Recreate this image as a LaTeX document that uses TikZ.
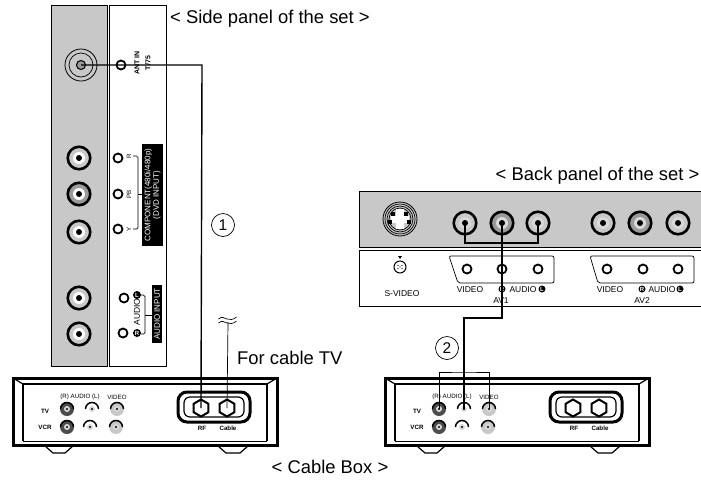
\documentclass[tikz,border=0pt]{standalone}
\usepackage{fontspec}
\setmainfont{Liberation Sans}
\usetikzlibrary{shapes.geometric}
\definecolor{panelgray}{HTML}{C8C8C8}
\definecolor{ringgray}{HTML}{9A9A9A}
\tikzset{
    caption/.style = {font = \fontsize{18.4}{20}\selectfont, inner sep = 0pt},
    tinylabel/.style = {font = \fontsize{6.2}{7}\selectfont, inner sep = 0pt},
    backlabel/.style = {font = \fontsize{8.5}{9}\selectfont, inner sep = 0pt},
    boldlabel/.style = {font = \fontsize{6.2}{7}\selectfont\bfseries, inner sep = 0pt},
    sidelabel/.style = {font = \fontsize{8.5}{9}\selectfont, inner sep = 0pt, rotate = 90},
    blacklabel/.style = {sidelabel, font = \fontsize{8}{8.5}\selectfont, fill = black, text = white, align = center},
    badge/.style = {circle, fill = black, text = white, inner sep = 0pt, minimum size = 8pt, font = \fontsize{6}{6}\selectfont\bfseries},
    hole/.style = {circle, draw, line width = 1.8pt, fill = white, inner sep = 0pt, minimum size = 9pt},
    rcajack/.style = {circle, draw, line width = 2.6pt, fill = #1, inner sep = 0pt, minimum size = 22.5pt},
    smalljack/.style = {circle, fill = #1, inner sep = 0pt, minimum size = 14pt},
    nut/.style = {regular polygon, regular polygon sides = 6, rotate = 30, draw, line width = 2pt, fill = white, inner sep = 0pt, minimum size = 17pt},
    numbered/.style = {circle, draw, line width = .7pt, inner sep = 0pt, minimum size = 23pt, font = \fontsize{15.5}{16}\selectfont},
    cable/.style = {line width = 1.4pt},
    thinline/.style = {line width = .7pt},
    panel/.style = {draw, line width = .9pt},
}
\begin{document}
\begin{tikzpicture}[x = 1pt, y = -1pt]
    \useasboundingbox (0, 0) rectangle (701, 480);

    % side panel
    \draw[panel, fill = panelgray] (51, 5) rectangle (107, 366);
    \draw[panel] (109, 5) rectangle (166, 366);

    \node[circle, draw, thick, fill = panelgray, minimum size = 32pt, inner sep = 0pt] (antout) at (81, 65) {};
    \draw[thinline] (antout.center) circle (12);
    \fill[ringgray] (antout.center) circle (5);
    \draw[line width = 1pt] (antout.center) circle (4.5);
    \node[hole] (antin) at (121, 65) {};
    \node[sidelabel, font = \fontsize{7}{7}\selectfont\bfseries] (antlabel) at (137, 63) {ANT IN};
    \node[sidelabel, font = \fontsize{7}{7}\selectfont\bfseries] (ohmlabel) at (148, 63) {T/75};

    \foreach \name/\ypos/\col in {sideR/158/panelgray, sidePb/194/ringgray, sideY/232/panelgray, sideAL/298/panelgray, sideAR/334/panelgray} {
        \node[rcajack = \col] (\name) at (79, \ypos) {};
        \fill[white] (\name.center) circle (6);
        \fill (\name.center) circle (3);
    }

    \foreach \name/\xpos/\ypos in {holeR/118/158, holePb/118/194, holeY/118/229, holeAL/124/298, holeAR/123/333} {
        \node[hole] (\name) at (\xpos, \ypos) {};
    }

    \node[tinylabel, rotate = 90] (labelR) at (129, 156) {R};
    \node[tinylabel, rotate = 90] (labelPb) at (129, 194) {PB};
    \node[tinylabel, rotate = 90] (labelY) at (129, 229) {Y};
    \draw[thinline, rounded corners = 1.5pt] (133, 156) -- (138, 156) -- (138, 229) -- (133, 229);
    \draw[thinline] (138, 194) -- (142, 194);
    \node[blacklabel, minimum width = 102pt, minimum height = 21pt] (complabel) at (152.5, 195) {COMPONENT(480i/480p)\\(DVD INPUT)};

    \node[sidelabel] (audiolabel) at (137, 312) {AUDIO};
    \node[badge] (badgeL) at (137, 295) {L};
    \node[badge] (badgeR) at (137, 333) {R};
    \draw[thinline, rounded corners = 1.5pt] (141, 295) -- (145, 295) -- (145, 334) -- (141, 334);
    \draw[thinline] (145, 315) -- (152, 315);
    \node[blacklabel, minimum width = 58pt, minimum height = 10pt] (audioinput) at (157, 314) {AUDIO INPUT};

    % back panel
    \draw[panel, fill = panelgray] (701, 191) -- (359, 191) -- (359, 247) -- (701, 247);
    \draw[panel] (701, 250) -- (359, 250) -- (359, 306) -- (701, 306);

    \node[circle, draw, thick, fill = panelgray, minimum size = 34pt, inner sep = 0pt] (svideo) at (400, 219) {};
    \foreach \r in {15, 13, 11} {
        \draw[thinline] (svideo.center) circle (\r);
    }
    \fill[white] (396, 209) rectangle (404, 229);
    \fill[white] (391, 216) rectangle (409, 223);
    \foreach \dx/\dy in {-7/-5, 6/-5, -10/3, 9/3} {
        \fill ([shift = {(\dx, \dy)}] svideo.center) ++(-2, -2) rectangle ++(4, 4);
    }

    \foreach \name/\xpos/\col in {avV/465/panelgray, avR/502/ringgray, avL/538/panelgray, avbV/603/panelgray, avbR/640/ringgray, avbL/678/panelgray} {
        \node[rcajack = \col] (\name) at (\xpos, 223) {};
        \fill[white!85!black] (\name.center) circle (6);
        \fill (\name.center) circle (3);
    }

    \draw[thinline, rounded corners = 2pt] (449, 256) -- (554, 256) -- (554, 283) -- (458, 283) -- cycle;
    \draw[thinline, rounded corners = 2pt] (590, 256) -- (694, 256) -- (694, 283) -- (598, 283) -- cycle;
    \foreach \name/\xpos in {holeV/467, holeM/502, holeE/538, holebV/607, holebM/643, holebE/678} {
        \node[hole] (\name) at (\xpos, 269) {};
    }

    \node[circle, draw, line width = 1pt, inner sep = 0pt, minimum size = 12pt] (svicon) at (400, 267) {};
    \foreach \dx/\dy in {-2/-1.5, 2/-1.5, -2/1.5, 2/1.5, 0/0} {
        \fill ([shift = {(\dx, \dy)}] svicon.center) circle (.7);
    }
    \fill (398, 256) -- (402, 256) -- (400, 259) -- cycle;
    \node[backlabel] (svlabel) at (402, 294) {S-VIDEO};

    \node[backlabel] (videoone) at (470, 290) {VIDEO};
    \node[badge, minimum size = 7pt] (rone) at (502, 289) {R};
    \node[backlabel] (audioone) at (523, 290) {AUDIO};
    \node[badge, minimum size = 7pt] (lone) at (542, 289) {L};
    \node[backlabel] (avone) at (501, 301) {AV1};
    \node[backlabel] (videotwo) at (610, 290) {VIDEO};
    \node[badge, minimum size = 7pt] (rtwo) at (642, 289) {R};
    \node[backlabel] (audiotwo) at (662, 290) {AUDIO};
    \node[badge, minimum size = 7pt] (ltwo) at (680, 289) {L};
    \node[backlabel] (avtwo) at (642, 301) {AV2};

    % cable boxes
    \foreach \bx/\sft in {a/0, b/372} {
        \begin{scope}[xshift = \sft]
            \draw[line width = 3pt, fill = white] (13, 378) rectangle (277, 445);
            \draw[line width = 2.4pt] (23, 441) -- (23, 384) -- (267, 384) -- (267, 441);
            \draw[line width = 1.2pt] (13, 378) -- (23, 384) (277, 378) -- (267, 384);
            \draw[line width = .8pt] (23, 441.5) -- (267, 441.5);
            \draw[line width = 1.2pt] (45, 446) -- (53, 453) -- (65, 453) -- (73, 446);
            \draw[line width = 1.2pt] (218, 446) -- (226, 453) -- (240, 453) -- (248, 446);

            \node[tinylabel] (audio\bx) at (80, 397) {(R) AUDIO (L)};
            \node[tinylabel] (video\bx) at (117, 397) {VIDEO};
            \node[boldlabel] (tv\bx) at (45, 411) {TV};
            \node[boldlabel] (vcr\bx) at (45, 427) {VCR};
            \node[boldlabel] (rflabel\bx) at (202, 428) {RF};
            \node[boldlabel] (cablelabel\bx) at (228, 428) {Cable};

            \foreach \name/\xpos/\ypos/\col in {tvR/67/409/black!70, tvL/92/409/white, tvV/117/409/panelgray, vcrR/67/427/black!70, vcrL/90/427/white, vcrV/116/427/panelgray} {
                \node[smalljack = \col] (\name\bx) at (\xpos, \ypos) {};
                \draw[line width = 1.5pt] ([shift = {(-6.5, 0)}] \name\bx.center) arc (180:360:6.5);
                \fill[white!85!black] (\name\bx.center) circle (3);
                \fill (\name\bx.center) circle (1.2);
            }

            \draw[line width = 3pt, rounded corners = 9pt] (178, 392) rectangle (250, 422);
            \draw[line width = 1.2pt, rounded corners = 6pt] (184, 397) rectangle (244, 417);
            \node[nut] (rf\bx) at (201, 408) {};
            \node[nut] (cablein\bx) at (227, 408) {};
        \end{scope}
    }

    % cables
    \coordinate (antcorner) at (202, 65);
    \coordinate (cabletop) at (228, 322);
    \coordinate (bendtwo) at (464, 318);
    \coordinate (bracketone) at (502, 243);
    \coordinate (brackettwo) at (464, 372);

    \draw[cable] (antout.center) -- (antcorner) -- (rfa.center);
    \draw[thinline] (cabletop) -- (cableina.center);
    \draw[cable] (avV.center) |- (bracketone) -| (avL.center);
    \draw[cable] (avR.center) |- (bendtwo) -- (tvLb.center);
    \draw[thinline] (tvRb.center) |- (brackettwo) -| (tvVb.center);
    \foreach \wy in {319, 323} {
        \draw[thinline] (218.5, \wy) .. controls (222, \wy - 3) and (224, \wy - 1) .. (227, \wy) .. controls (230, \wy + 1) and (233, \wy + 1) .. (236.5, \wy - 2);
    }

    \node[numbered] (numone) at (223, 225) {1};
    \node[numbered] (numtwo) at (447, 348) {2};

    \node[caption, anchor = west] (sidecap) at (170, 19) {< Side panel of the set >};
    \node[caption, anchor = east] (backcap) at (699.5, 176) {< Back panel of the set >};
    \node[caption, anchor = west] (cablecap) at (237, 358) {For cable TV};
    \node[caption] (boxcap) at (330, 467) {< Cable Box >};
\end{tikzpicture}
\end{document}
